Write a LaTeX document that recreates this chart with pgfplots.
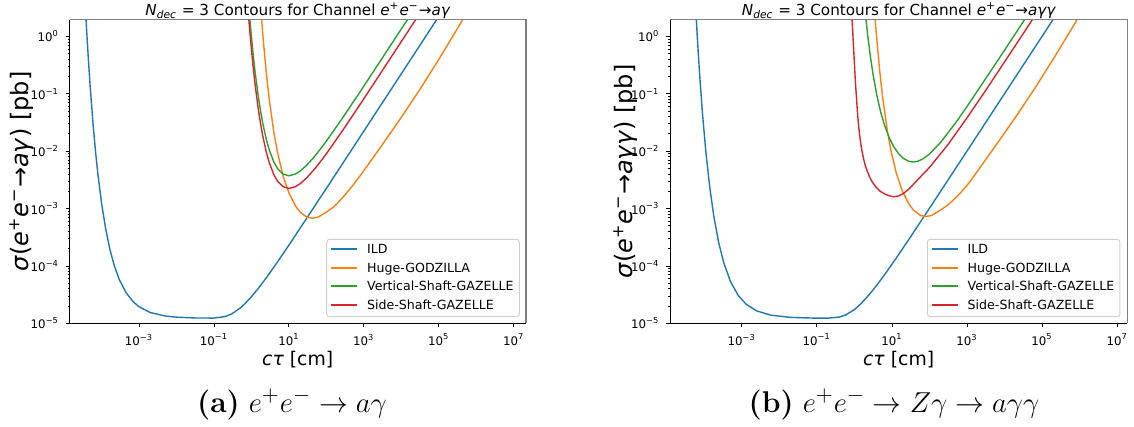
\documentclass[border=0pt]{standalone}
\usepackage{fontspec}
\usepackage{pgfplots}
\pgfplotsset{compat=1.18}
\newfontfamily\dv{DejaVu Sans}
\definecolor{tabblue}{HTML}{1F77B4}
\definecolor{taborange}{HTML}{FF7F0E}
\definecolor{tabgreen}{HTML}{2CA02C}
\definecolor{tabred}{HTML}{D62728}
\definecolor{legframe}{HTML}{D0D0D0}
\newcommand{\tp}[1]{10\textsuperscript{#1}}
\pgfplotsset{
  every axis plot/.append style={line width=0.7pt},
}
% legend box (drawn beside each axis, as in the reference)
\newcommand{\mylegend}[1]{%
\begin{scope}[xshift=#1]
\draw[legframe, fill=white, rounded corners=1.5pt, line width=0.5pt] (163.35pt,-119.65pt) rectangle (259.65pt,-158.35pt);
\draw[tabblue, line width=0.8pt] (165.5pt,-124.5pt) -- (178.5pt,-124.5pt);
\draw[taborange, line width=0.8pt] (165.5pt,-134pt) -- (178.5pt,-134pt);
\draw[tabgreen, line width=0.8pt] (165.5pt,-143pt) -- (178.5pt,-143pt);
\draw[tabred, line width=0.8pt] (165.5pt,-152.5pt) -- (178.5pt,-152.5pt);
\begin{scope}[every node/.style={anchor=base west, inner sep=0pt, font=\dv\fontsize{6.3}{7.5}\selectfont}]
\node at (183.35pt,-126.8pt) {ILD};
\node at (183.35pt,-136.3pt) {Huge-GODZILLA};
\node at (183.35pt,-145.3pt) {Vertical-Shaft-GAZELLE};
\node at (183.35pt,-154.8pt) {Side-Shaft-GAZELLE};
\end{scope}
\end{scope}}
\begin{document}
\begin{tikzpicture}
\useasboundingbox (0,0) rectangle (567pt,-213.5pt);
% ---------------- left panel ----------------
\begin{loglogaxis}[name=L, at={(34.8pt,-161.65pt)}, anchor=south west,
  scale only axis, width=228.1pt, height=151.8pt,
  xmin=1.413e-5, xmax=2.089e7, ymin=1e-5, ymax=1.95,
  axis x line*=bottom, axis y line*=left,
  axis line style={line width=0.5pt, black},
  xtick={1e-3,1e-1,1e1,1e3,1e5,1e7},
  xticklabels={\tp{−3},\tp{−1},\tp{1},\tp{3},\tp{5},\tp{7}},
  xminorticks=false,
  ytick={1e-5,1e-4,1e-3,1e-2,1e-1,1},
  yticklabels={\tp{−5},\tp{−4},\tp{−3},\tp{−2},\tp{−1},\tp{0}},
  tick align=outside,
  major tick length=1.8pt, minor tick length=1.0pt,
  tick style={black, line width=0.4pt},
  tick label style={font=\dv\fontsize{5.9}{7}\selectfont},
  xlabel style={font=\dv\fontsize{9.4}{11}\selectfont, at={(axis description cs:0.5,-0.068)}, anchor=north},
  title style={font=\dv\fontsize{7.6}{9}\selectfont, at={(axis description cs:0.5,1.014)}, anchor=base, yshift=-6pt},
  xlabel={\textit{cτ} [cm]},
  title={{\itshape N}\textsubscript{\itshape dec} = 3 Contours for Channel {\itshape e}\textsuperscript{+}{\itshape e}\textsuperscript{−}→{\itshape aγ}},
  ylabel={\textit{σ}(\textit{e}\textsuperscript{+}\textit{e}\textsuperscript{−}→\textit{aγ}) [pb]},
  ylabel style={font=\dv\fontsize{12}{14}\selectfont, at={(axis description cs:-0.106,0.5)}, anchor=center},
]
% ILD
\addplot[draw=tabblue] coordinates {(3.6e-5,4.98) (4e-5,1.37) (4.5e-5,0.376) (5e-5,0.1337) (6e-5,0.02838) (7e-5,9.38e-3) (8e-5,4.08e-3) (1e-4,1.276e-3) (1.3e-4,4.37e-4) (1.7e-4,1.88e-4) (2.2e-4,1.01e-4) (3e-4,5.75e-5) (4.5e-4,3.44e-5) (7e-4,2.38e-5) (1e-3,1.95e-5) (2e-3,1.54e-5) (5e-3,1.34e-5) (1e-2,1.28e-5) (3e-2,1.24e-5) (0.1,1.233e-5) (0.2,1.309e-5) (0.3,1.459e-5) (0.5,1.84e-5) (0.7,2.26e-5) (1,2.90e-5) (1.5,4.0e-5) (2,5.11e-5) (3,7.34e-5) (5,1.18e-4) (10,2.30e-4) (100,2.24e-3) (1e4,0.2234) (1e5,2.234)};
% Huge-GODZILLA
\addplot[draw=taborange] coordinates {(1.7,4.63) (2,1.127) (2.5,0.228) (3,0.0783) (4,0.02065) (5,9.29e-3) (7,3.72e-3) (10,1.88e-3) (15,1.109e-3) (20,8.67e-4) (30,7.10e-4) (42,6.76e-4) (60,7.08e-4) (100,8.65e-4) (150,1.047e-3) (200,1.245e-3) (316,1.738e-3) (562,2.754e-3) (1000,4.571e-3) (3162,1.318e-2) (1e4,3.89e-2) (31623,0.1202) (1e5,0.398) (316228,1.380) (630957,2.951)};
% Vertical-Shaft-GAZELLE
\addplot[draw=tabgreen] coordinates {(0.85,3.40) (0.9,2.15) (1.0,0.990) (1.1,0.525) (1.25,0.245) (1.5,0.0971) (1.75,0.0503) (2,0.0310) (2.5,0.01592) (3,0.01042) (4,6.38e-3) (5,4.95e-3) (7,3.98e-3) (10,3.72e-3) (15,3.99e-3) (20,4.50e-3) (30,5.69e-3) (50,8.27e-3) (100,0.01493) (300,0.0418) (1000,0.1359) (1e4,1.347) (3e4,4.04)};
% Side-Shaft-GAZELLE
\addplot[draw=tabred] coordinates {(0.85,2.05) (0.9,1.30) (1.0,0.596) (1.1,0.316) (1.25,0.1476) (1.5,0.0585) (1.75,0.0303) (2,0.01866) (2.5,9.59e-3) (3,6.28e-3) (4,3.85e-3) (5,2.99e-3) (7,2.40e-3) (10,2.24e-3) (15,2.40e-3) (20,2.71e-3) (30,3.43e-3) (50,4.99e-3) (100,8.99e-3) (300,0.0252) (1000,0.0819) (1e4,0.811) (3e4,2.43)};
\end{loglogaxis}
\draw[line width=0.75pt, gray] (L.north west) -- (L.north east) -- (L.south east);
\mylegend{0pt}
% ---------------- right panel ----------------
\begin{loglogaxis}[name=R, at={(335pt,-161.65pt)}, anchor=south west,
  scale only axis, width=228.65pt, height=151.8pt,
  xmin=1.230e-5, xmax=1.862e7, ymin=1e-5, ymax=1.95,
  axis x line*=bottom, axis y line*=left,
  axis line style={line width=0.5pt, black},
  xtick={1e-3,1e-1,1e1,1e3,1e5,1e7},
  xticklabels={\tp{−3},\tp{−1},\tp{1},\tp{3},\tp{5},\tp{7}},
  xminorticks=false,
  ytick={1e-5,1e-4,1e-3,1e-2,1e-1,1},
  yticklabels={\tp{−5},\tp{−4},\tp{−3},\tp{−2},\tp{−1},\tp{0}},
  tick align=outside,
  major tick length=1.8pt, minor tick length=1.0pt,
  tick style={black, line width=0.4pt},
  tick label style={font=\dv\fontsize{5.9}{7}\selectfont},
  xlabel style={font=\dv\fontsize{9.4}{11}\selectfont, at={(axis description cs:0.5,-0.068)}, anchor=north},
  title style={font=\dv\fontsize{7.6}{9}\selectfont, at={(axis description cs:0.5,1.014)}, anchor=base, yshift=-6pt},
  xlabel={\textit{cτ} [cm]},
  title={{\itshape N}\textsubscript{\itshape dec} = 3 Contours for Channel {\itshape e}\textsuperscript{+}{\itshape e}\textsuperscript{−}→{\itshape aγγ}},
  ylabel={\textit{σ}(\textit{e}\textsuperscript{+}\textit{e}\textsuperscript{−}→\textit{aγγ}) [pb]},
  ylabel style={font=\dv\fontsize{12}{14}\selectfont, at={(axis description cs:-0.098,0.5)}, anchor=center},
]
% ILD
\addplot[draw=tabblue] coordinates {(5.7e-5,5.31) (6.5e-5,1.074) (7.5e-5,0.2355) (9e-5,0.0455) (1.1e-4,0.01021) (1.4e-4,2.415e-3) (1.8e-4,7.45e-4) (2.4e-4,2.667e-4) (3.3e-4,1.151e-4) (5e-4,5.37e-5) (8e-4,3.08e-5) (1.3e-3,2.16e-5) (2.5e-3,1.644e-5) (6e-3,1.384e-5) (2e-2,1.268e-5) (0.08,1.233e-5) (0.2,1.230e-5) (0.4,1.285e-5) (0.6,1.409e-5) (1,1.734e-5) (1.5,2.20e-5) (2.5,3.17e-5) (4,4.65e-5) (7,7.64e-5) (12,1.265e-4) (30,3.07e-4) (100,1.009e-3) (1000,1.002e-2) (1e4,0.1002) (1e5,1.002) (3e5,3.006)};
% Huge-GODZILLA
\addplot[draw=taborange] coordinates {(3.23,4.968) (3.8,1.208) (4.75,0.2444) (5.7,0.0839) (7.6,0.02214) (9.5,9.96e-3) (13.3,3.99e-3) (19,2.014e-3) (28.5,1.189e-3) (38,9.29e-4) (57,7.61e-4) (79.8,7.25e-4) (114,7.59e-4) (190,9.27e-4) (292,1.122e-3) (400,1.335e-3) (664,1.863e-3) (1175,2.884e-3) (2100,4.90e-3) (6640,1.413e-2) (21000,4.17e-2) (66408,0.1289) (210000,0.4267) (664079,1.479) (1325010,3.163)};
% Vertical-Shaft-GAZELLE
\addplot[draw=tabgreen] coordinates {(1.75,5.44) (2,2.20) (2.3,0.959) (2.7,0.4236) (3.2,0.2032) (4,0.0918) (5,0.0486) (6.5,0.0271) (8.5,0.01710) (11,0.01219) (15,9.05e-3) (20,7.50e-3) (28,6.64e-3) (37,6.46e-3) (50,6.68e-3) (70,7.45e-3) (100,8.89e-3) (200,0.01432) (500,0.03126) (1000,0.0597) (1e4,0.573) (3e4,1.713) (6e4,3.42)};
% Side-Shaft-GAZELLE
\addplot[draw=tabred] coordinates {(0.8128,5.012) (0.871,1.950) (0.955,0.6166) (1.064,0.1622) (1.225,0.04266) (1.318,0.02512) (1.445,0.01514) (1.585,0.01023) (1.778,7.16e-3) (1.950,5.62e-3) (2.239,4.365e-3) (2.512,3.631e-3) (2.951,2.951e-3) (3.802,2.344e-3) (4.898,1.995e-3) (6.607,1.778e-3) (9.120,1.641e-3) (11.48,1.603e-3) (15.14,1.660e-3) (19.95,1.820e-3) (25.12,2.042e-3) (31.62,2.344e-3) (56.23,3.508e-3) (100,5.188e-3) (316.2,0.01318) (1000,0.0380) (3162,0.1148) (1e4,0.359) (31623,1.122) (79433,2.82)};
\end{loglogaxis}
\draw[line width=0.75pt, gray] (R.north west) -- (R.north east) -- (R.south east);
\mylegend{300.3pt}
% ---------------- captions ----------------
\node[anchor=base, font=\fontsize{15}{18}\selectfont] at (146pt,-206pt) {\textbf{(a)} $e^+e^-\rightarrow a\gamma$};
\node[anchor=base, font=\fontsize{15}{18}\selectfont] at (447pt,-206pt) {\textbf{(b)} $e^+e^-\rightarrow Z\gamma\rightarrow a\gamma\gamma$};
\end{tikzpicture}
\end{document}
